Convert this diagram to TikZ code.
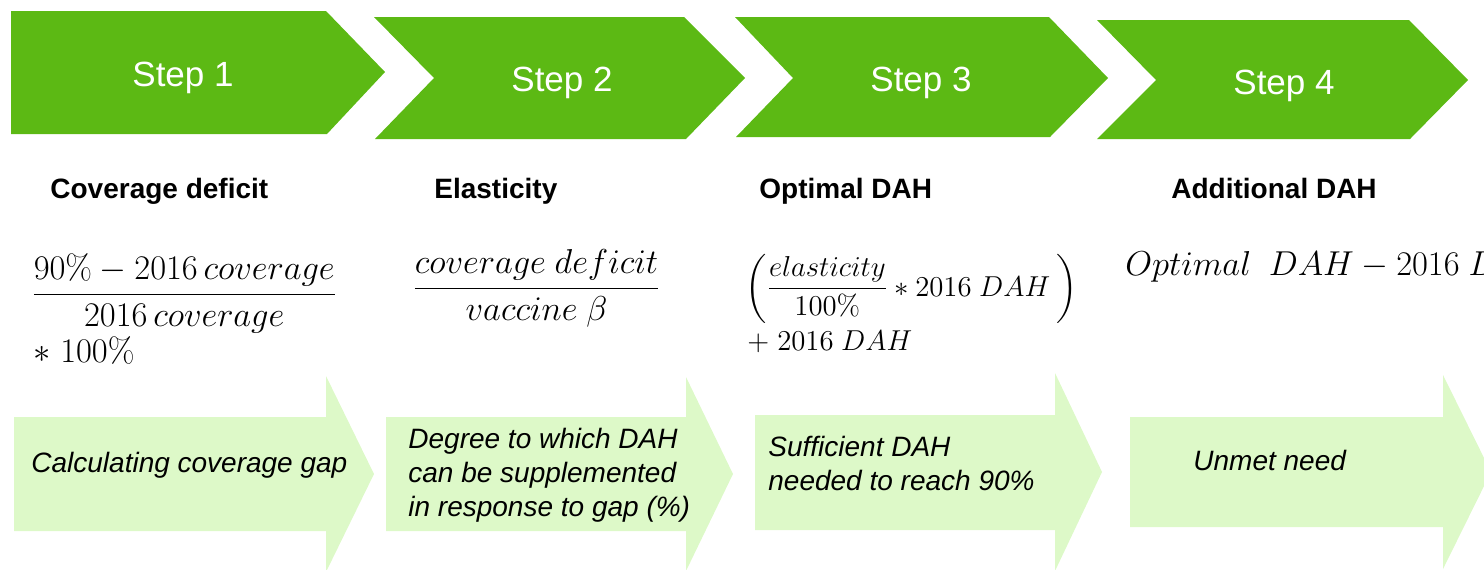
\documentclass[tikz,border=0pt]{standalone}
\usepackage{amsmath}
\usepackage[no-math]{fontspec}
\setmainfont{Liberation Sans}
\definecolor{stepgreen}{HTML}{5CB914}
\definecolor{palegreen}{HTML}{DDF9C8}
\tikzset{
  steplabel/.style={text=white,inner sep=0,anchor=base,font=\fontsize{17.5}{21}\selectfont},
  steptitle/.style={inner sep=0,anchor=base west,font=\bfseries\fontsize{14}{17}\selectfont},
  formula/.style={inner sep=0,anchor=base west,font=\fontsize{16}{19}\selectfont},
  smallformula/.style={formula,font=\fontsize{13.5}{16}\selectfont},
  arrowtext/.style={inner sep=0,anchor=base west,align=left,font=\itshape\fontsize{14}{17}\selectfont}
}
\begin{document}
\begin{tikzpicture}[x=0.5pt,y=-0.5pt]
  \clip (0,0) rectangle (1484,569);
  % step chevrons
  \fill[stepgreen] (11,11) -- (326,11) -- (385,72) -- (327,134) -- (11,134) -- cycle;
  \fill[stepgreen] (374,17) -- (684,17) -- (745,78) -- (686,139) -- (375,139) -- (434,78) -- cycle;
  \fill[stepgreen] (735,17) -- (1049,17) -- (1108,78) -- (1050,137) -- (736,137) -- (793,78) -- cycle;
  \fill[stepgreen] (1097,20) -- (1409,20) -- (1468,80) -- (1410,139) -- (1097,139) -- (1156,80) -- cycle;
  \node[steplabel] (step1) at (183,86) {Step 1};
  \node[steplabel] (step2) at (562,91) {Step 2};
  \node[steplabel] (step3) at (921,91) {Step 3};
  \node[steplabel] (step4) at (1284,94) {Step 4};
  % titles
  \node[steptitle] (title1) at (50,198) {Coverage deficit};
  \node[steptitle] (title2) at (434,198) {Elasticity};
  \node[steptitle] (title3) at (759,198) {Optimal DAH};
  \node[steptitle] (title4) at (1171,198) {Additional DAH};
  % formulas
  \node[formula,font=\fontsize{16.5}{19}\selectfont] (eq1) at (31,303) {$\dfrac{90\% - 2016\,coverage}{2016\,coverage}$};
  \node[formula,font=\fontsize{16.5}{19}\selectfont] (eq1b) at (33,362) {$\ast\;100\%$};
  \node[formula] (eq2) at (412,297) {$\dfrac{coverage\ deficit}{vaccine\ \beta}$};
  \node[smallformula] (eq3) at (745,296) {$\left(\dfrac{elasticity}{100\%}\ast 2016\ DAH\hspace{3pt}\right)$};
  \node[smallformula] (eq3b) at (747,350) {$+\;2016\ DAH$};
  \node[formula] (eq4) at (1125,275) {$Optimal\ \ DAH - 2016\ DAH$};
  % bottom arrows
  \fill[palegreen] (14,417) -- (326,417) -- (326,376) -- (374,474) -- (326,572) -- (326,531) -- (14,531) -- cycle;
  \fill[palegreen] (386,417) -- (686,417) -- (686,377) -- (733,474) -- (686,571) -- (686,531) -- (386,531) -- cycle;
  \fill[palegreen] (755,415) -- (1055,415) -- (1055,373) -- (1102,472) -- (1055,571) -- (1055,530) -- (755,530) -- cycle;
  \fill[palegreen] (1130,417) -- (1443,417) -- (1443,375) -- (1491,472) -- (1443,569) -- (1443,527) -- (1130,527) -- cycle;
  \node[arrowtext] (what1) at (31,472) {Calculating coverage gap};
  \node[arrowtext] (what2) at (408,516) {Degree to which DAH\\can be supplemented\\in response to gap (\%)};
  \node[arrowtext] (what3) at (768,490) {Sufficient DAH\\needed to reach 90\%};
  \node[arrowtext] (what4) at (1193,470) {Unmet need};
\end{tikzpicture}
\end{document}
